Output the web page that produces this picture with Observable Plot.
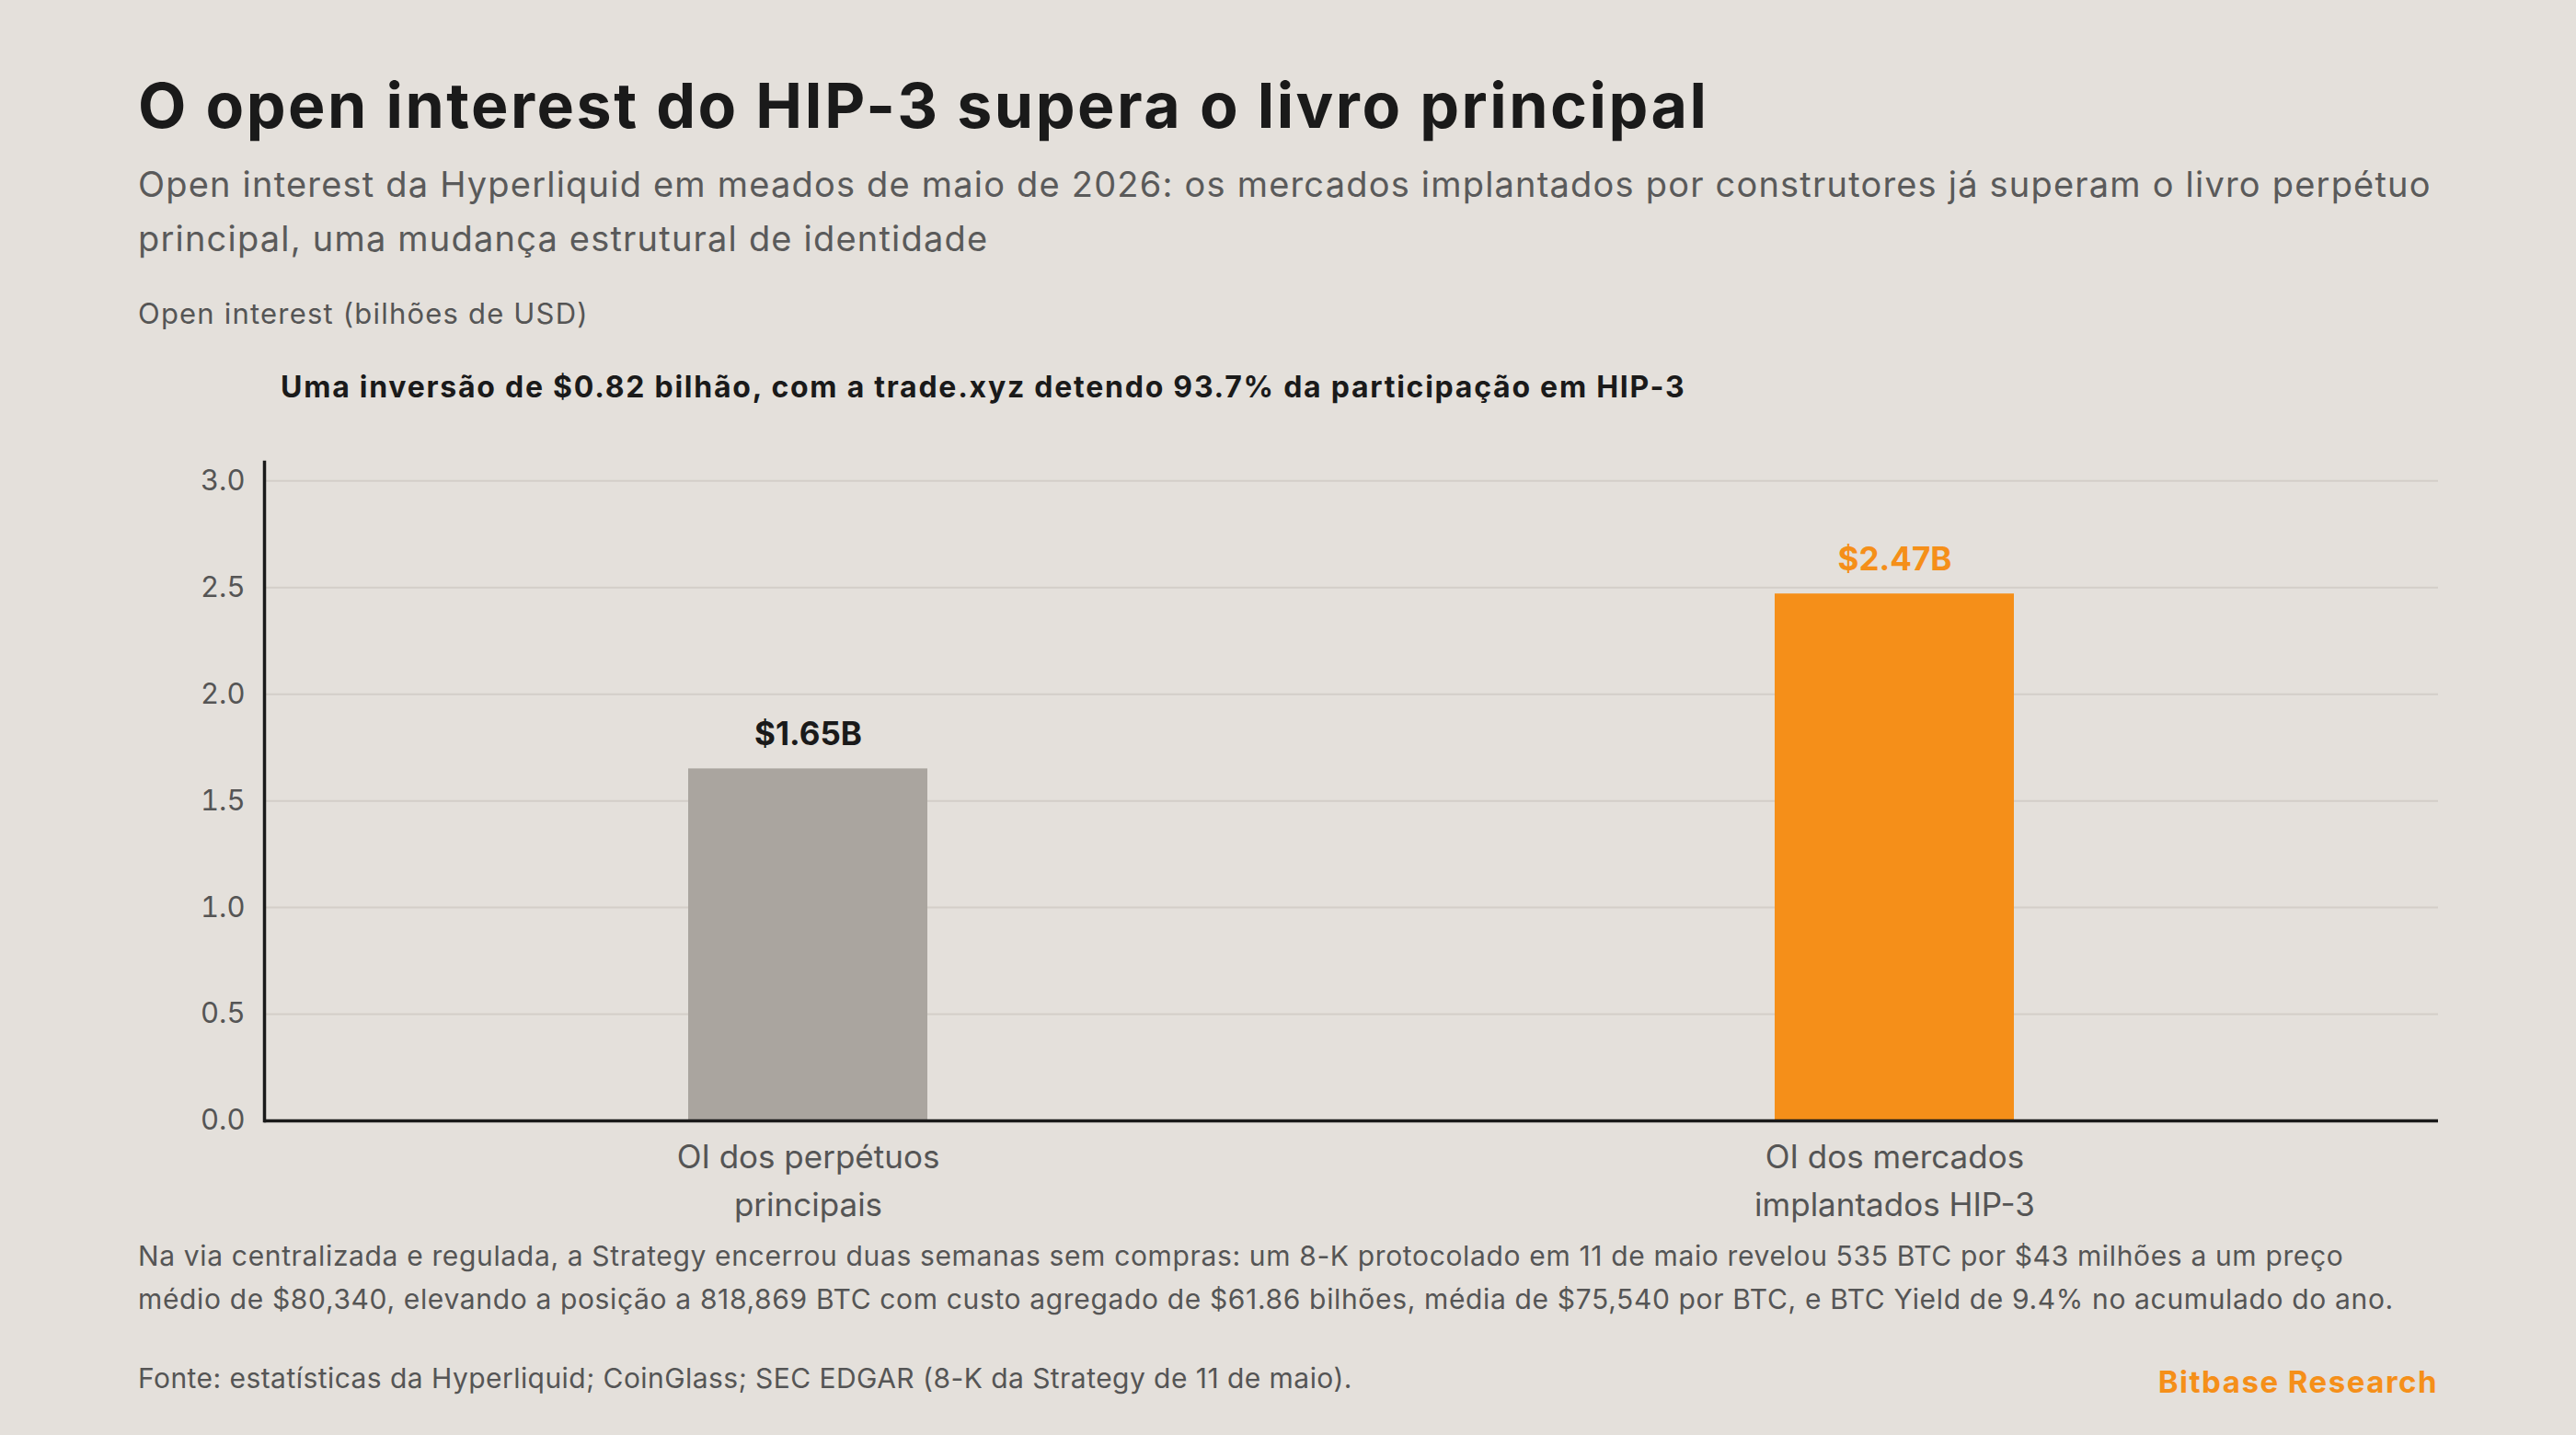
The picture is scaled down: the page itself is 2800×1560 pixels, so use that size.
<!DOCTYPE html>
<html>
<head>
<meta charset="utf-8">
<script src="https://cdn.jsdelivr.net/npm/d3@7"></script>
<script src="https://cdn.jsdelivr.net/npm/@observablehq/plot@0.6"></script>
<style>
  html, body { margin: 0; padding: 0; }
  body { width: 2800px; height: 1560px; background: #e4e0db; font-family: Inter, "Open Sans", sans-serif; position: relative; overflow: hidden; }
  .abs { position: absolute; white-space: nowrap; }
  #title { left: 150px; top: 73px; font-size: 68px; font-weight: 700; color: #1a1a1a; letter-spacing: 2.5px; }
  #subtitle { left: 150px; top: 171px; font-size: 38px; line-height: 59px; color: #5a5a5a; letter-spacing: 1.2px; }
  #ylabel { left: 150px; top: 322px; font-size: 31px; color: #555; letter-spacing: 1.2px; }
  #annot { left: 305px; top: 401px; font-size: 32px; font-weight: 700; color: #1a1a1a; letter-spacing: 1.75px; }
  #chart { left: 0; top: 470px; }
  #note { left: 150px; top: 1342px; font-size: 30px; line-height: 47px; color: #555; letter-spacing: 0.65px; }
  #source { left: 150px; top: 1480px; font-size: 30px; color: #555; letter-spacing: 0.45px; }
  #brand { right: 150px; top: 1482px; font-size: 33px; font-weight: 700; color: #f58f19; letter-spacing: 1.5px; }
</style>
</head>
<body>
<div id="title" class="abs">O open interest do HIP-3 supera o livro principal</div>
<div id="subtitle" class="abs">Open interest da Hyperliquid em meados de maio de 2026: os mercados implantados por construtores já superam o livro perpétuo<br>principal, uma mudança estrutural de identidade</div>
<div id="ylabel" class="abs">Open interest (bilhões de USD)</div>
<div id="annot" class="abs">Uma inversão de $0.82 bilhão, com a trade.xyz detendo 93.7% da participação em HIP-3</div>
<div id="chart" class="abs"></div>
<div id="note" class="abs">Na via centralizada e regulada, a Strategy encerrou duas semanas sem compras: um 8-K protocolado em 11 de maio revelou 535 BTC por $43 milhões a um preço<br>médio de $80,340, elevando a posição a 818,869 BTC com custo agregado de $61.86 bilhões, média de $75,540 por BTC, e BTC Yield de 9.4% no acumulado do ano.</div>
<div id="source" class="abs">Fonte: estatísticas da Hyperliquid; CoinGlass; SEC EDGAR (8-K da Strategy de 11 de maio).</div>
<div id="brand" class="abs">Bitbase Research</div>
<script>
const categories = ["OI dos perpétuos\nprincipais", "OI dos mercados\nimplantados HIP-3"];
const values = [1.65, 2.47];
const valueLabels = ["$1.65B", "$2.47B"];
const barColors = ["#aaa59f", "#f58f19"];
const labelColors = ["#1a1a1a", "#f58f19"];
const yTicks = [0, 0.5, 1.0, 1.5, 2.0, 2.5, 3.0];
const yMax = 3.0875;

const data = categories.map((c, i) => ({
  cat: c, value: values[i], label: valueLabels[i], color: barColors[i], lcolor: labelColors[i]
}));

const chart = Plot.plot({
  width: 2800,
  height: 868,
  marginLeft: 287,
  marginRight: 150,
  marginTop: 32,
  marginBottom: 120,
  style: { background: "transparent", fontFamily: "Inter, sans-serif", fontSize: "31px", color: "#555" },
  x: { domain: categories, paddingInner: 0.78, paddingOuter: 0.39, axis: null, label: null },
  y: { domain: [0, yMax], label: null, axis: null },
  color: { type: "identity" },
  marks: [
    Plot.gridY(yTicks, { stroke: "#d3cec8", strokeOpacity: 1, strokeWidth: 2 }),
    Plot.barY(data, { x: "cat", y: "value", fill: "color" }),
    Plot.axisY(yTicks, { tickSize: 0, tickPadding: 21, tickFormat: d3.format(".1f"), fontSize: 31, fill: "#555", label: null }),
    Plot.text(data, { x: "cat", y: "value", text: "label", dy: -37, fill: "lcolor", fontWeight: 700, fontSize: 35 }),
    Plot.text(data, { x: "cat", y: 0, text: "cat", dy: 14, lineAnchor: "top", lineHeight: 1.5, fontSize: 35, fill: "#555", letterSpacing: 0.4 }),
    Plot.frame({ anchor: "left", stroke: "#1a1a1a", strokeWidth: 3.5 }),
    Plot.ruleY([0], { stroke: "#1a1a1a", strokeWidth: 3.5 })
  ]
});
document.getElementById("chart").appendChild(chart);
</script>
</body>
</html>
